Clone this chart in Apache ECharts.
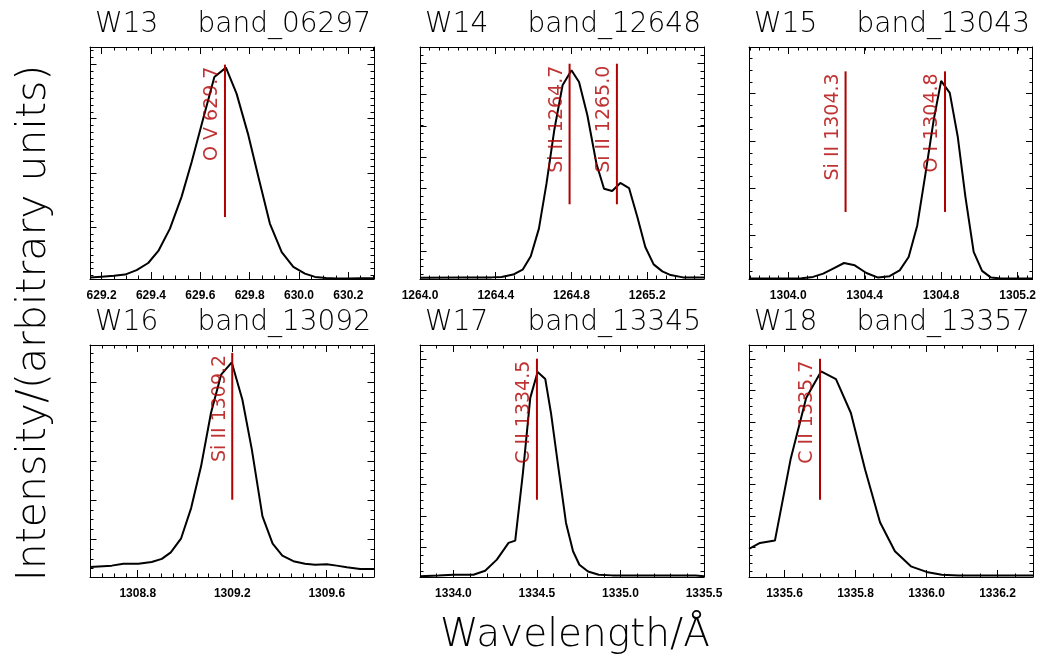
<!DOCTYPE html>
<html>
<head>
<meta charset="utf-8">
<script src="https://cdn.jsdelivr.net/npm/echarts@6/dist/echarts.min.js"></script>
<style>
  html, body { margin: 0; padding: 0; background: #ffffff; }
  #chart { width: 1039px; height: 668px; }
</style>
</head>
<body>
<div id="chart"></div>
<script>
// Six spectral windows: wavelength (Å) against intensity (arbitrary units, 0..1 of the plot range)
const windowIds = ['W13', 'W14', 'W15', 'W16', 'W17', 'W18'];
const bandNames = ['band_06297', 'band_12648', 'band_13043', 'band_13092', 'band_13345', 'band_13357'];

// Wavelength limits of each window
const xRangeMin = [629.153, 1264.0, 1303.795, 1308.598, 1333.8, 1335.5];
const xRangeMax = [630.304, 1265.5, 1305.278, 1309.8, 1335.5, 1336.3];

// Labelled wavelength ticks and number of minor subdivisions between them
const xTicks13 = [629.2, 629.4, 629.6, 629.8, 630.0, 630.2];
const xTicks14 = [1264.0, 1264.4, 1264.8, 1265.2];
const xTicks15 = [1304.0, 1304.4, 1304.8, 1305.2];
const xTicks16 = [1308.8, 1309.2, 1309.6];
const xTicks17 = [1334.0, 1334.5, 1335.0, 1335.5];
const xTicks18 = [1335.6, 1335.8, 1336.0, 1336.2];
const xMinorDiv = [4, 8, 8, 8, 5, 4];

// Intensity major ticks (unlabelled) and minor subdivisions
const yTicks13 = [0.221, 0.456, 0.691, 0.927];
const yTicks14 = [0.121, 0.256, 0.391, 0.525, 0.660, 0.795, 0.930];
const yTicks15 = [0.187, 0.391, 0.595, 0.799];
const yTicks16 = [0.163, 0.332, 0.501, 0.670, 0.839];
const yTicks17 = [0.128, 0.263, 0.398, 0.533, 0.668, 0.803, 0.938];
const yTicks18 = [0.128, 0.263, 0.398, 0.533, 0.668, 0.803, 0.938];
const yMinorDiv = [8, 4, 4, 4, 4, 4];

// Line profiles
const wl13 = [629.153, 629.200, 629.250, 629.295, 629.342, 629.389, 629.430, 629.477, 629.524, 629.565, 629.610, 629.657, 629.704, 629.747, 629.795, 629.839, 629.882, 629.930, 629.977, 630.024, 630.065, 630.110, 630.153, 630.200, 630.250, 630.304];
const in13 = [0.006, 0.010, 0.014, 0.019, 0.038, 0.069, 0.121, 0.217, 0.354, 0.504, 0.684, 0.871, 0.911, 0.799, 0.619, 0.425, 0.239, 0.116, 0.052, 0.023, 0.009, 0.004, 0.002, 0.002, 0.003, 0.003];

const wl14 = [1264.000, 1264.220, 1264.378, 1264.431, 1264.492, 1264.542, 1264.585, 1264.628, 1264.668, 1264.709, 1264.753, 1264.800, 1264.840, 1264.884, 1264.932, 1264.972, 1265.015, 1265.058, 1265.104, 1265.148, 1265.190, 1265.234, 1265.280, 1265.324, 1265.389, 1265.500];
const in14 = [0.005, 0.006, 0.007, 0.009, 0.019, 0.040, 0.098, 0.217, 0.411, 0.641, 0.835, 0.900, 0.849, 0.706, 0.497, 0.389, 0.379, 0.414, 0.392, 0.267, 0.138, 0.063, 0.033, 0.017, 0.007, 0.006];

const wl15 = [1303.795, 1304.070, 1304.130, 1304.183, 1304.235, 1304.292, 1304.348, 1304.409, 1304.470, 1304.530, 1304.583, 1304.630, 1304.675, 1304.718, 1304.762, 1304.800, 1304.845, 1304.887, 1304.927, 1304.970, 1305.014, 1305.061, 1305.113, 1305.278];
const in15 = [0.002, 0.003, 0.009, 0.023, 0.045, 0.069, 0.059, 0.026, 0.006, 0.012, 0.037, 0.095, 0.231, 0.454, 0.691, 0.854, 0.802, 0.612, 0.353, 0.117, 0.035, 0.006, 0.002, 0.002];

const wl16 = [1308.598, 1308.690, 1308.739, 1308.803, 1308.859, 1308.902, 1308.940, 1308.983, 1309.026, 1309.068, 1309.110, 1309.153, 1309.198, 1309.243, 1309.283, 1309.328, 1309.371, 1309.412, 1309.459, 1309.508, 1309.551, 1309.600, 1309.642, 1309.685, 1309.741, 1309.800];
const in16 = [0.043, 0.049, 0.057, 0.057, 0.065, 0.078, 0.106, 0.165, 0.297, 0.477, 0.707, 0.872, 0.925, 0.764, 0.549, 0.261, 0.144, 0.092, 0.068, 0.057, 0.053, 0.055, 0.049, 0.042, 0.034, 0.034];

const wl17 = [1333.800, 1333.910, 1334.000, 1334.120, 1334.190, 1334.260, 1334.330, 1334.370, 1334.416, 1334.460, 1334.504, 1334.550, 1334.584, 1334.630, 1334.674, 1334.716, 1334.754, 1334.806, 1334.870, 1334.950, 1335.050, 1335.250, 1335.450, 1335.500];
const in17 = [0.003, 0.006, 0.010, 0.010, 0.027, 0.075, 0.147, 0.157, 0.448, 0.772, 0.884, 0.853, 0.707, 0.463, 0.233, 0.111, 0.053, 0.024, 0.010, 0.007, 0.006, 0.006, 0.006, 0.003];

const wl18 = [1335.500, 1335.531, 1335.573, 1335.617, 1335.661, 1335.703, 1335.745, 1335.787, 1335.827, 1335.869, 1335.911, 1335.956, 1336.000, 1336.043, 1336.090, 1336.184, 1336.300];
const in18 = [0.121, 0.147, 0.157, 0.506, 0.772, 0.886, 0.853, 0.707, 0.463, 0.236, 0.111, 0.046, 0.022, 0.010, 0.006, 0.006, 0.006];

// Identified emission lines: window, ion, wavelength and vertical extent of the marker
const lineWindow = [0, 1, 1, 2, 2, 3, 4, 5];
const lineIon = ['O V', 'Si II', 'Si II', 'Si II', 'O I', 'Si II', 'C II', 'C II'];
const lineWave = [629.70, 1264.79, 1265.04, 1304.30, 1304.82, 1309.20, 1334.50, 1335.70];
const lineLow = [0.267, 0.322, 0.322, 0.289, 0.289, 0.333, 0.333, 0.333];
const lineHigh = [0.924, 0.928, 0.928, 0.895, 0.895, 0.966, 0.941, 0.941];

const wavelengths = [wl13, wl14, wl15, wl16, wl17, wl18];
const intensities = [in13, in14, in15, in16, in17, in18];
const xTicks = [xTicks13, xTicks14, xTicks15, xTicks16, xTicks17, xTicks18];
const yTicks = [yTicks13, yTicks14, yTicks15, yTicks16, yTicks17, yTicks18];

const THIN_FONT = '"DejaVu Sans", "Liberation Sans", sans-serif';
const LABEL_FONT = '"Liberation Sans", Arial, sans-serif';
const RED = '#b00000';

// Panel placement (pixels)
const colLeft = [90, 420, 749];
const rowTop = [47, 345];
const panelW = 284, panelH = 232;

function subTicks(majors, div, lo, hi) {
  const step = (majors[1] - majors[0]) / div;
  let start = majors[0];
  while (start - step >= lo - 1e-9) start -= step;
  const out = [];
  for (let v = start; v <= hi + 1e-9; v += step) out.push(+v.toFixed(6));
  return out;
}

function lineLabel(i) {
  return lineIon[i] + ' ' + (Math.floor(lineWave[i] * 10 + 1e-6) / 10).toFixed(1);
}

const grids = [], xAxes = [], yAxes = [], series = [], titles = [];

for (let p = 0; p < 6; p++) {
  const rect = { left: colLeft[p % 3], top: rowTop[Math.floor(p / 3)], width: panelW, height: panelH };
  const xMinor = subTicks(xTicks[p], xMinorDiv[p], xRangeMin[p], xRangeMax[p]);
  const yMinor = subTicks(yTicks[p], yMinorDiv[p], 0, 1);

  // grid 2p carries the frame, major ticks and data; grid 2p+1 overlays the minor ticks
  for (let layer = 0; layer < 2; layer++) {
    const g = 2 * p + layer;
    grids.push(Object.assign({ containLabel: false }, rect));
    const major = layer === 0;
    ['bottom', 'top'].forEach(function (pos) {
      xAxes.push({
        gridIndex: g, type: 'value', position: pos,
        min: xRangeMin[p], max: xRangeMax[p],
        axisLine: { show: major, onZero: false, lineStyle: { color: '#000', width: 1 } },
        axisTick: {
          show: true, inside: true, length: major ? 7 : 3.5,
          customValues: major ? xTicks[p] : xMinor,
          lineStyle: { color: '#000', width: 1 }
        },
        axisLabel: {
          show: major && pos === 'bottom', customValues: xTicks[p],
          formatter: function (v) { return v.toFixed(1); },
          margin: 11, color: '#000', fontFamily: LABEL_FONT, fontWeight: 'bold', fontSize: 12
        },
        splitLine: { show: false }
      });
    });
    ['left', 'right'].forEach(function (pos) {
      yAxes.push({
        gridIndex: g, type: 'value', position: pos, min: 0, max: 1,
        axisLine: { show: major, onZero: false, lineStyle: { color: '#000', width: 1 } },
        axisTick: {
          show: true, inside: true, length: major ? 6.5 : 3.5,
          customValues: major ? yTicks[p] : yMinor,
          lineStyle: { color: '#000', width: 1 }
        },
        axisLabel: { show: false },
        splitLine: { show: false }
      });
    });
  }

  const xi = 4 * p, yi = 4 * p;
  series.push({
    type: 'line', xAxisIndex: xi, yAxisIndex: yi,
    data: wavelengths[p].map(function (w, k) { return [w, intensities[p][k]]; }),
    symbol: 'none', showSymbol: false, z: 3,
    lineStyle: { color: '#000', width: 2 }
  });

  titles.push({
    text: windowIds[p], left: rect.left + 5, top: rect.top - 36, padding: 0,
    textStyle: { fontFamily: THIN_FONT, fontWeight: 200, fontSize: 28, color: '#000' }
  });
  titles.push({
    text: bandNames[p], right: 1039 - (rect.left + rect.width - 3), top: rect.top - 36, padding: 0,
    textStyle: { fontFamily: THIN_FONT, fontWeight: 200, fontSize: 28, color: '#000' }
  });
}

// Red line markers with their rotated identifications
for (let i = 0; i < lineWave.length; i++) {
  const p = lineWindow[i];
  series.push({
    type: 'line', xAxisIndex: 4 * p, yAxisIndex: 4 * p,
    data: [[lineWave[i], lineLow[i]], [lineWave[i], lineHigh[i]]],
    symbol: 'none', showSymbol: false, z: 4,
    lineStyle: { color: RED, width: 2 }
  });
  series.push({
    type: 'scatter', xAxisIndex: 4 * p, yAxisIndex: 4 * p,
    data: [[lineWave[i], lineHigh[i]]],
    symbolSize: 0, z: 5, silent: true,
    label: {
      show: true, formatter: lineLabel(i), rotate: 90,
      position: [0, 0], align: 'right', verticalAlign: 'bottom', offset: [-2, -3],
      color: RED, fontFamily: THIN_FONT, fontSize: 19
    }
  });
}

const chart = echarts.init(document.getElementById('chart'), null, { renderer: 'canvas' });
chart.setOption({
  animation: false,
  backgroundColor: '#ffffff',
  title: titles,
  grid: grids,
  xAxis: xAxes,
  yAxis: yAxes,
  series: series,
  graphic: [
    {
      type: 'text', x: 34, y: 323, rotation: Math.PI / 2,
      style: {
        text: 'Intensity/(arbitrary units)', fill: '#000',
        font: '200 41px ' + THIN_FONT, textAlign: 'center', textVerticalAlign: 'middle'
      }
    },
    {
      type: 'text', x: 575, y: 636,
      style: {
        text: 'Wavelength/Å', fill: '#000',
        font: '200 39px ' + THIN_FONT, textAlign: 'center', textVerticalAlign: 'middle'
      }
    }
  ]
});
</script>
</body>
</html>
